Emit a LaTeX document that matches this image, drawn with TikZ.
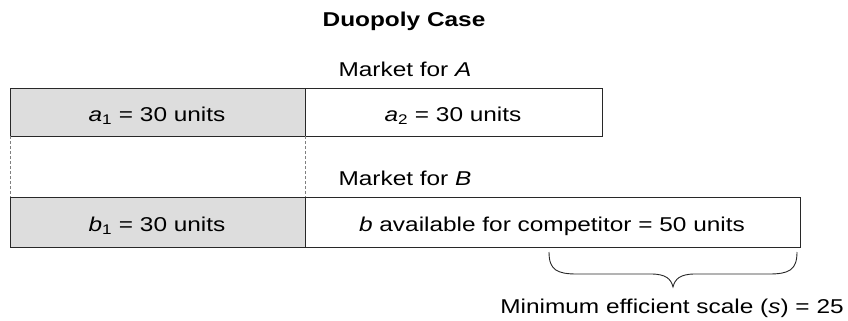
\documentclass[tikz,border=0pt]{standalone}
\usepackage{fontspec}
\setmainfont[FakeStretch=1.22]{Liberation Sans}
\definecolor{cellgray}{RGB}{221,221,221}
\definecolor{edge}{RGB}{40,40,40}
\tikzset{
  txt/.style={inner sep=0pt, anchor=base, font=\fontsize{20}{24}\selectfont, text=black},
  ttl/.style={inner sep=0pt, anchor=base, font=\fontsize{20}{24}\selectfont\bfseries, text=black},
  cell/.style={draw=edge, line width=0.9pt},
  guide/.style={draw=gray, dashed, dash pattern=on 3pt off 2pt, line width=0.8pt},
}
\begin{document}
\begin{tikzpicture}[x=1pt,y=-1pt]
\useasboundingbox (0,0) rectangle (848,321);
% row A
\fill[cellgray] (10,88) rectangle (305,136);
\draw[cell] (10,88) rectangle (305,136);
\draw[cell] (305,88) rectangle (602,136);
% row B
\fill[cellgray] (10,197) rectangle (305,247);
\draw[cell] (10,197) rectangle (305,247);
\draw[cell] (305,197) rectangle (800,247);
% dashed guides
\coordinate (ga1) at (10,136); \coordinate (gb1) at (10,197);
\coordinate (ga2) at (305,136); \coordinate (gb2) at (305,197);
\draw[guide] (ga1) -- (gb1);
\draw[guide] (ga2) -- (gb2);
% texts
\node[ttl] (title) at (404,27) {Duopoly Case};
\node[txt] (mA) at (405,76) {Market for \textit{A}};
\node[txt] (mB) at (405,185) {Market for \textit{B}};
\node[txt] (a1) at (157,121) {\textit{a}\textsubscript{1} = 30 units};
\node[txt] (a2) at (453,121) {\textit{a}\textsubscript{2} = 30 units};
\node[txt] (b1) at (157,231) {\textit{b}\textsubscript{1} = 30 units};
\node[txt] (bav) at (552,231) {\textit{b} available for competitor = 50 units};
\node[txt] (mes) at (672,313) {Minimum efficient scale (\textit{s}) = 25};
% brace
\coordinate (bl) at (549,252);
\coordinate (br) at (797,252);
\coordinate (bt) at (673,287);
\draw[edge, line width=0.9pt] (bl) .. controls (549,270) and (557,274) .. (577,274)
  -- (651,274) .. controls (666,274) and (671,279) .. (bt)
  .. controls (675,279) and (680,274) .. (695,274)
  -- (769,274) .. controls (789,274) and (797,270) .. (br);
\end{tikzpicture}
\end{document}
